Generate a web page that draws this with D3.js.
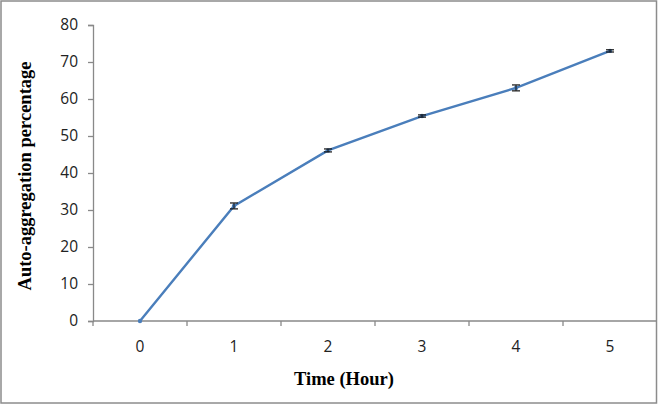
<!DOCTYPE html>
<html>
<head>
<meta charset="utf-8">
<script src="https://cdn.jsdelivr.net/npm/d3@7"></script>
<style>
  body { margin: 0; background: #fff; }
</style>
</head>
<body>
<div id="svgContainer"></div>
<script>
// data
var hours = ["0", "1", "2", "3", "4", "5"];
var aggregation = [0, 31.1, 46.1, 55.4, 63.0, 73.0];
var errors = [0, 0.8, 0.4, 0.3, 0.8, 0.3];
var yTicks = [0, 10, 20, 30, 40, 50, 60, 70, 80];

var width = 658;
var height = 405;
var margin = {top: 25, right: 1, bottom: 84, left: 93};

var svg = d3.select("#svgContainer").append("svg").attr("width", width).attr("height", height)

// outer frame
svg.append("rect")
    .attr("x", 1).attr("y", 1).attr("width", width - 2.5).attr("height", height - 3)
    .attr("fill", "#fff").attr("stroke", "#8c8c8c").attr("stroke-width", 1.5)

var x = d3.scaleBand().domain(hours).range([margin.left, width - margin.right])
var y = d3.scaleLinear().domain([0, 80]).range([height - margin.bottom, margin.top])

var axisColor = "#898989"

// y axis
var yAxis = svg.append("g")
    .attr("transform", "translate(" + margin.left + ",0)")
    .call(d3.axisLeft(y).tickValues(yTicks).tickSize(5).tickPadding(10))
yAxis.select(".domain").attr("stroke", axisColor).attr("stroke-width", 1.3)
yAxis.selectAll(".tick line").attr("stroke", axisColor).attr("stroke-width", 1.3)
yAxis.selectAll("text").attr("font-family", "Open Sans, sans-serif").attr("font-size", 15.5).attr("fill", "#222")

// x axis - ticks sit on band edges like Excel
var xAxis = svg.append("g").attr("transform", "translate(0," + y(0) + ")")
xAxis.append("line")
    .attr("x1", margin.left).attr("x2", width - margin.right)
    .attr("stroke", axisColor).attr("stroke-width", 1.3)
xAxis.selectAll(".xt")
    .data(hours)
    .join("line")
    .attr("class", "xt")
    .attr("x1", d => x(d)).attr("x2", d => x(d))
    .attr("y1", 0).attr("y2", 5)
    .attr("stroke", axisColor).attr("stroke-width", 1.3)
xAxis.selectAll(".xl")
    .data(hours)
    .join("text")
    .attr("class", "xl")
    .attr("x", d => x(d) + x.bandwidth() / 2)
    .attr("y", 31)
    .attr("text-anchor", "middle")
    .attr("font-family", "Open Sans, sans-serif").attr("font-size", 15.5).attr("fill", "#222")
    .text(d => d)

// axis titles
svg.append("text")
    .attr("x", 344).attr("y", 385)
    .attr("text-anchor", "middle")
    .attr("font-family", "Liberation Serif, Times New Roman, serif")
    .attr("font-weight", "bold").attr("font-size", 18.5)
    .text("Time (Hour)")

svg.append("text")
    .attr("transform", "translate(31," + 176 + ") rotate(-90)")
    .attr("text-anchor", "middle")
    .attr("font-family", "Liberation Serif, Times New Roman, serif")
    .attr("font-weight", "bold").attr("font-size", 18.5)
    .text("Auto-aggregation percentage")

var pts = hours.map((h, i) => ({x: x(h) + x.bandwidth() / 2, v: aggregation[i], e: errors[i]}))

// line
svg.append("path")
    .datum(pts)
    .attr("fill", "none")
    .attr("stroke", "#4a7ebb")
    .attr("stroke-width", 2.4)
    .attr("d", d3.line().x(d => d.x).y(d => y(d.v)))

// markers
svg.selectAll(".mk")
    .data(pts)
    .join("circle")
    .attr("class", "mk")
    .attr("cx", d => d.x).attr("cy", d => y(d.v)).attr("r", 2.2)
    .attr("fill", "#4a7ebb")

// error bars
var eb = svg.selectAll(".eb").data(pts.filter(d => d.e > 0)).join("g").attr("class", "eb")
eb.append("line")
    .attr("x1", d => d.x).attr("x2", d => d.x)
    .attr("y1", d => y(d.v - d.e)).attr("y2", d => y(d.v + d.e))
    .attr("stroke", "#111").attr("stroke-width", 1)
eb.append("line")
    .attr("x1", d => d.x - 4).attr("x2", d => d.x + 4)
    .attr("y1", d => y(d.v + d.e)).attr("y2", d => y(d.v + d.e))
    .attr("stroke", "#111").attr("stroke-width", 1.2)
eb.append("line")
    .attr("x1", d => d.x - 4).attr("x2", d => d.x + 4)
    .attr("y1", d => y(d.v - d.e)).attr("y2", d => y(d.v - d.e))
    .attr("stroke", "#111").attr("stroke-width", 1.2)
</script>
</body>
</html>
